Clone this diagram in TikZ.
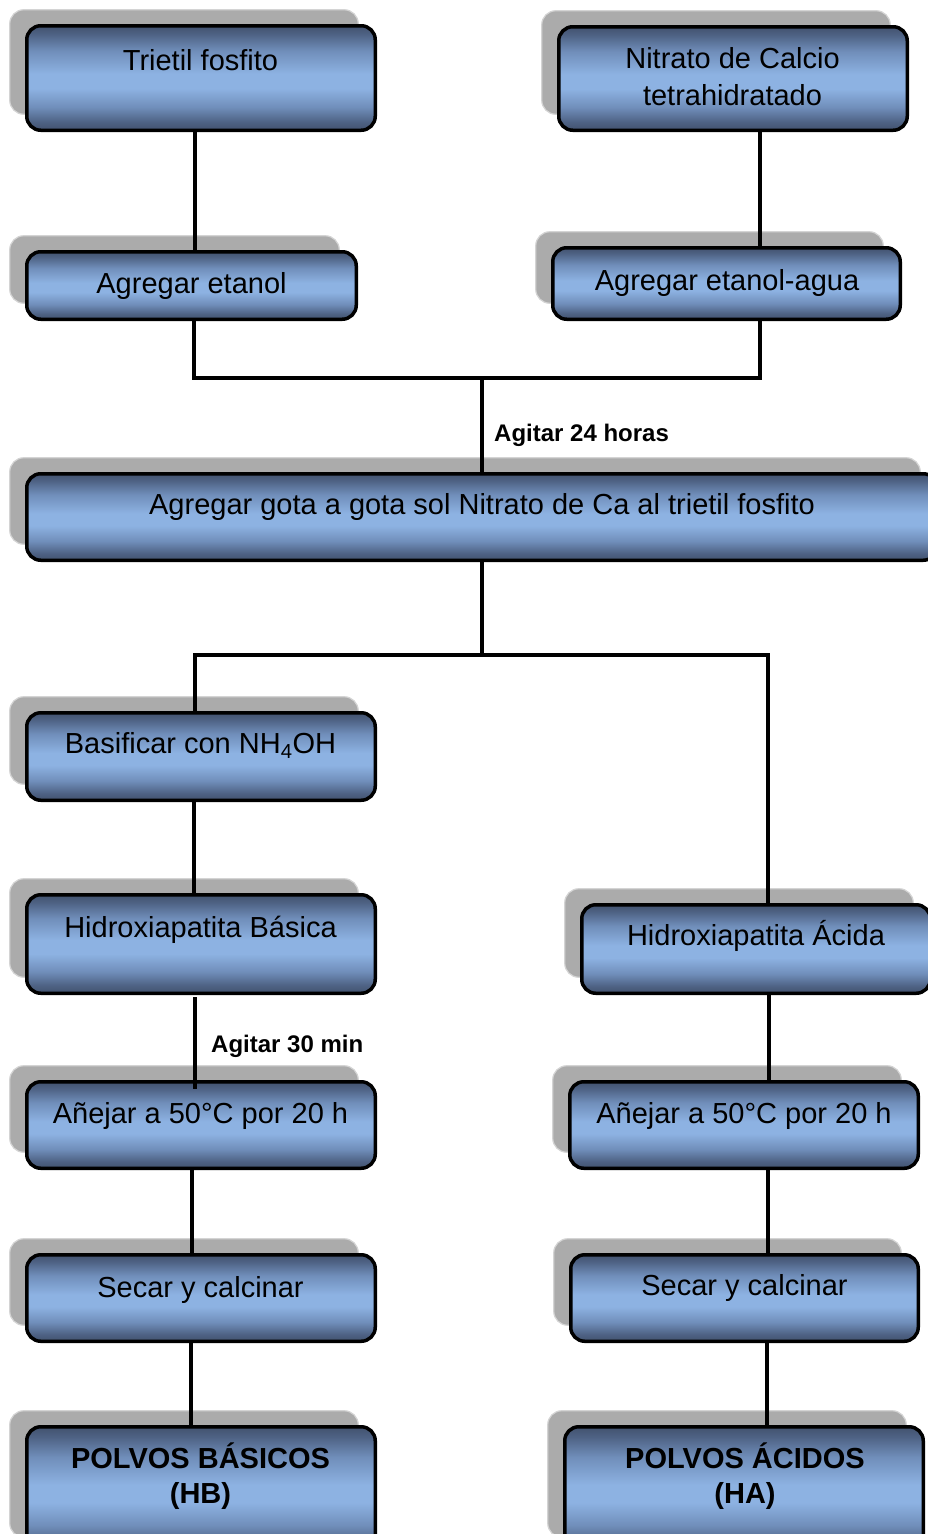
\documentclass[tikz,border=0pt]{standalone}
\usepackage{fontspec}
\setmainfont{Liberation Sans}
\usetikzlibrary{calc}
\definecolor{bdark}{RGB}{66,82,110}
\definecolor{bdktwo}{RGB}{78,98,132}
\definecolor{bmid}{RGB}{112,142,186}
\definecolor{blight}{RGB}{141,178,226}
\definecolor{shgray}{RGB}{171,171,171}
\definecolor{shedge}{RGB}{212,212,212}
\pgfdeclareverticalshading{boxshade}{100bp}{color(0bp)=(bdark); color(25bp)=(bdark); color(29bp)=(bdktwo); color(36bp)=(bmid); color(45bp)=(blight); color(52bp)=(blight); color(63bp)=(bmid); color(71bp)=(bdktwo); color(75bp)=(bdark); color(100bp)=(bdark)}
\pgfdeclarelayer{bglayer}
\pgfdeclarelayer{shadowlayer}
\pgfdeclarelayer{linelayer}
\pgfdeclarelayer{toplayer}
\pgfsetlayers{bglayer,shadowlayer,linelayer,main,toplayer}
\tikzset{
  boxst/.style={draw=black, line width=3.5pt, rounded corners=14pt, shade, shading=boxshade,
    anchor=north west, inner sep=0pt, outer sep=0pt},
  shadowst/.style={fill=shgray, draw=shedge, line width=1.2pt, rounded corners=14pt},
  conn/.style={draw=black, line width=4pt},
  lbl/.style={font=\fontsize{29}{37}\selectfont, anchor=base, inner sep=0pt},
  lblbold/.style={font=\bfseries\fontsize{29}{35}\selectfont, anchor=base, inner sep=0pt},
  note/.style={font=\bfseries\fontsize{24}{28}\selectfont, anchor=base west, inner sep=0pt},
}
\newcommand\mkbox[5]{%
  \node[boxst, minimum width=#4pt-3.5pt, minimum height=#5pt-3.5pt] (#1) at ($(#2,#3)+(1.75,1.75)$) {};
  \begin{pgfonlayer}{shadowlayer}
    \draw[shadowst] ($(#1.north west)+(-17,-16)$) rectangle ($(#1.south east)+(-17,-16)$);
  \end{pgfonlayer}}
\begin{document}
\begin{tikzpicture}[x=1pt,y=-1pt]
\useasboundingbox (0,0) rectangle (927,1534);
\begin{pgfonlayer}{bglayer}
  \fill[white] (0,0) rectangle (927,1534);
\end{pgfonlayer}

% boxes
\mkbox{b1}{25}{24}{352}{108}
\mkbox{b2}{557}{25}{352}{107}
\mkbox{b3}{25}{250}{333}{71}
\mkbox{b4}{551}{246}{351}{75}
\mkbox{b5}{25}{472}{914}{90}
\mkbox{b6}{25}{711}{352}{91}
\mkbox{b7}{25}{893}{352}{102}
\mkbox{b8}{25}{1080}{352}{90}
\mkbox{b9}{25}{1253}{352}{90}
\mkbox{b10}{25}{1425}{352}{130}
\mkbox{b11}{580}{903}{352}{92}
\mkbox{b12}{568}{1080}{352}{90}
\mkbox{b13}{569}{1253}{351}{90}
\mkbox{b14}{563}{1425}{362}{130}

% texts
\node[lbl] (t1) at (200.5,70) {Trietil fosfito};
\node[lbl] (t2) at (732.5,68) {\begin{tabular}[t]{@{}c@{}}Nitrato de Calcio\\tetrahidratado\end{tabular}};
\node[lbl] (t3) at (191.5,293) {Agregar etanol};
\node[lbl] (t4) at (727,290) {Agregar etanol-agua};
\node[lbl] (t5) at (482,514) {Agregar gota a gota sol Nitrato de Ca al trietil fosfito};
\node[lbl] (t6) at (200.5,753) {Basificar con NH\textsubscript{4}OH};
\node[lbl] (t7) at (200.5,937) {Hidroxiapatita Básica};
\node[lbl] (t8) at (200.5,1123) {Añejar a 50°C por 20 h};
\node[lbl] (t9) at (200.5,1297) {Secar y calcinar};
\node[lblbold] (t10) at (200.5,1468) {\begin{tabular}[t]{@{}c@{}}POLVOS BÁSICOS\\(HB)\end{tabular}};
\node[lbl] (t11) at (756,945) {Hidroxiapatita Ácida};
\node[lbl] (t12) at (744,1123) {Añejar a 50°C por 20 h};
\node[lbl] (t13) at (744.5,1295) {Secar y calcinar};
\node[lblbold] (t14) at (745,1468) {\begin{tabular}[t]{@{}c@{}}POLVOS ÁCIDOS\\(HA)\end{tabular}};

\node[note] (n1) at (494,441) {Agitar 24 horas};
\node[note] (n2) at (211,1052) {Agitar 30 min};

% connector helper coordinates
\coordinate (x191) at (191,0);
\coordinate (x192) at (192,0);
\coordinate (x194) at (194,0);
\coordinate (x195) at (195,0);
\coordinate (x760) at (760,0);
\coordinate (x762) at (762,0);
\coordinate (x767) at (767,0);
\coordinate (x768) at (768,0);
\coordinate (x769) at (769,0);
\coordinate (j1) at (482,378);
\coordinate (j2) at (482,655);

\begin{pgfonlayer}{linelayer}
  \draw[conn] (x195 |- b1.south) -- (x195 |- b3.north);
  \draw[conn] (x760 |- b2.south) -- (x760 |- b4.north);
  \draw[conn] (x194 |- b3.south) |- (x762 |- j1);
  \draw[conn] (x760 |- b4.south) -- (x760 |- j1);
  \draw[conn] (j1) -- (j1 |- b5.north);
  \draw[conn] (j1 |- b5.south) -- (j2);
  \draw[conn] (x195 |- b6.north) |- (x768 |- j2) -- (x768 |- b11.north);
  \draw[conn] (x194 |- b6.south) -- (x194 |- b7.north);
  \draw[conn] (x192 |- b8.south) -- (x192 |- b9.north);
  \draw[conn] (x191 |- b9.south) -- (x191 |- b10.north);
  \draw[conn] (x769 |- b11.south) -- (x769 |- b12.north);
  \draw[conn] (x768 |- b12.south) -- (x768 |- b13.north);
  \draw[conn] (x767 |- b13.south) -- (x767 |- b14.north);
\end{pgfonlayer}
\begin{pgfonlayer}{toplayer}
  \draw[conn] ($(x195 |- b7.south)+(0,4)$) -- ($(x195 |- b8.north)+(0,7)$);
\end{pgfonlayer}
\end{tikzpicture}
\end{document}
